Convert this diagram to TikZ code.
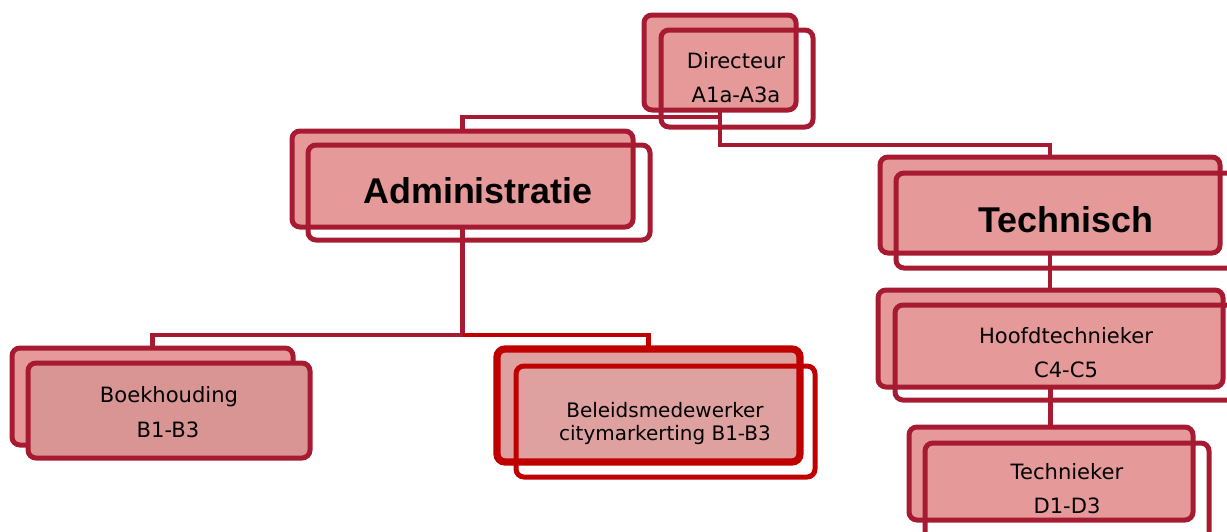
\documentclass[tikz,border=0pt]{standalone}
\usepackage{fontspec}
\setmainfont{DejaVu Sans}
\newfontfamily\headfont{Liberation Sans}
\usetikzlibrary{fit}
\definecolor{dred}{HTML}{A61B32}
\definecolor{bred}{HTML}{C00000}
\definecolor{pfill}{HTML}{E59999}
\definecolor{pfillb}{HTML}{D99494}
\definecolor{pfillc}{HTML}{DFA0A0}
\tikzset{
  frontbox/.style={draw=dred, fill=pfill, line width=1.25mm, rounded corners=2mm, inner sep=0pt},
  backbox/.style={draw=dred, line width=1.25mm, rounded corners=2mm, inner sep=0pt},
  conn/.style={draw=dred, line width=1.08mm},
  txt/.style={anchor=base, inner sep=0pt, font=\fontsize{15}{18}\selectfont},
  smalltxt/.style={anchor=base, inner sep=0pt, font=\fontsize{14.2}{17}\selectfont},
  headtxt/.style={anchor=base, inner sep=0pt, font=\headfont\bfseries\fontsize{25.5}{30}\selectfont},
}
\begin{document}
\begin{tikzpicture}[x=0.25mm, y=-0.25mm]
\useasboundingbox (0,0) rectangle (1227,532);
\clip (0,0) rectangle (1227,532);
% box positions (connectors are drawn behind the boxes)
\path
  node[fit={(644,15) (796,110)}, inner sep=0pt] (dir) {}
  node[fit={(292,131) (633,227)}, inner sep=0pt] (adm) {}
  node[fit={(880,157) (1220,253)}, inner sep=0pt] (tech) {}
  node[fit={(878,290) (1223,387)}, inner sep=0pt] (hoofd) {}
  node[fit={(909,427) (1193,520)}, inner sep=0pt] (tn) {}
  node[fit={(12,348) (293,445)}, inner sep=0pt] (boek) {}
  node[fit={(497,349) (800,462)}, inner sep=0pt] (bel) {};
% connectors
\draw[conn] (dir.south) -- ++(0,7) -| (adm.north);
\draw[conn] (dir.south) -- ++(0,35) -| (tech.north);
\draw[conn] (adm.south) -- ++(0,108) -| (boek.north);
\draw[conn] (adm.south) -- ++(0,108) coordinate (admfork);
\draw[conn, draw=bred] (admfork) -| (bel.north);
\draw[conn] (tech.south) -- (tech.south |- hoofd.north);
\draw[conn] (hoofd.south) -- (hoofd.south |- tn.north);
% front boxes
\node[frontbox, fit={(644,15) (796,110)}] (dirf) {};
\node[frontbox, fit={(292,131) (633,227)}] (admf) {};
\node[frontbox, fit={(880,157) (1220,253)}] (techf) {};
\node[frontbox, fit={(878,290) (1223,387)}] (hoofdf) {};
\node[frontbox, fit={(909,427) (1193,520)}] (tnf) {};
\node[frontbox, fit={(12,348) (293,445)}] (boekf) {};
\node[frontbox, draw=bred, fill=pfillc, line width=1.8mm, fit={(497,349) (800,462)}] (belf) {};
% back (offset) boxes
\node[backbox, fit={(661,30) (813,127)}] (dirb) {};
\node[backbox, fit={(308,145) (650,240)}] (admb) {};
\node[backbox, fit={(896,173) (1250,268)}] (techb) {};
\node[backbox, fit={(895,305) (1250,400)}] (hoofdb) {};
\node[backbox, fit={(925,443) (1209,560)}] (tnb) {};
\node[backbox, fill=pfillb, fit={(28,363) (310,458)}] (boekb) {};
\node[backbox, draw=bred, fit={(516,366) (815,477)}] (belb) {};
% texts
\node[txt] (t1) at (736,68) {Directeur};
\node[txt] (t2) at (736,102) {A1a-A3a};
\node[headtxt] (t3) at (478,203) {Administratie};
\node[headtxt] (t4) at (1066,232) {Technisch};
\node[txt] (t5) at (1066,343) {Hoofdtechnieker};
\node[txt] (t6) at (1066,377) {C4-C5};
\node[txt] (t7) at (1067,479) {Technieker};
\node[txt] (t8) at (1067,513) {D1-D3};
\node[txt] (t9) at (169,402) {Boekhouding};
\node[txt] (t10) at (168,437) {B1-B3};
\node[smalltxt] (t11) at (665,417) {Beleidsmedewerker};
\node[smalltxt] (t12) at (665,440) {citymarkerting B1-B3};
\end{tikzpicture}
\end{document}
